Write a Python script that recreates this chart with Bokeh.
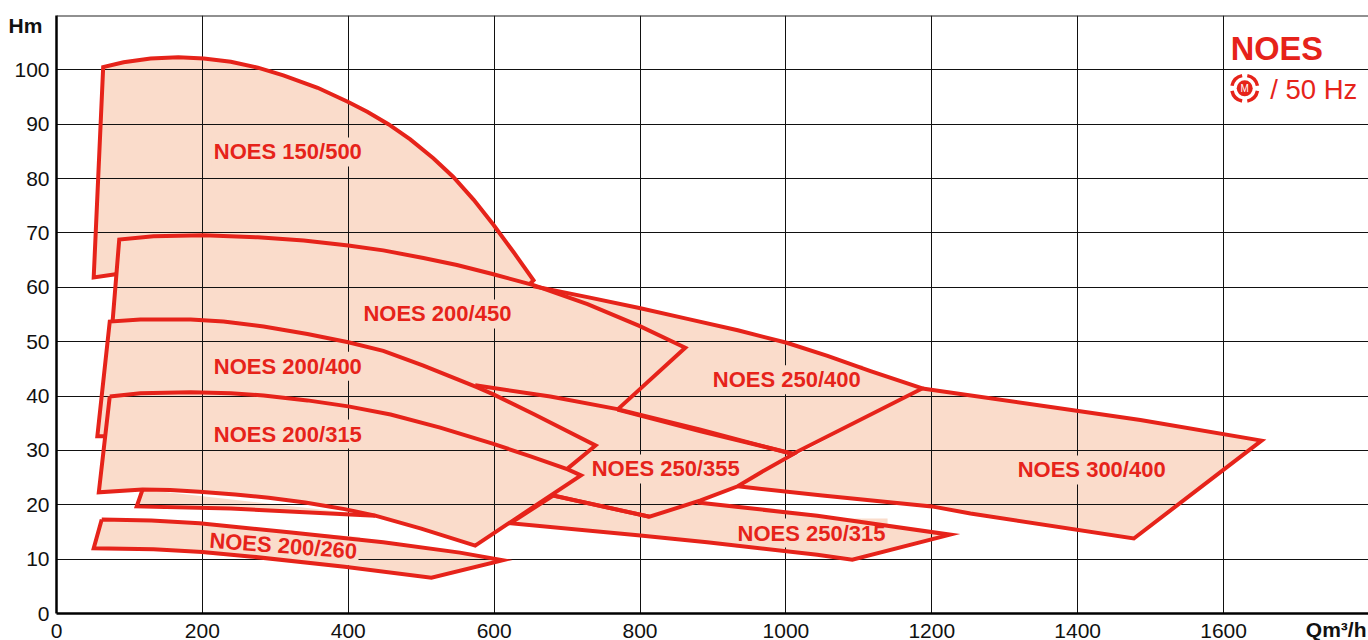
from bokeh.embed import file_html
from bokeh.resources import INLINE
from bokeh.plotting import figure
from bokeh.models import FixedTicker, Label, Span, ColumnDataSource, Title
from bokeh.core.properties import value

x_ticks = [0, 200, 400, 600, 800, 1000, 1200, 1400, 1600]
y_ticks = [0, 10, 20, 30, 40, 50, 60, 70, 80, 90, 100]

noes_150_500_q = [81, 51, 64, 92, 129, 167, 202, 239, 276, 311, 358, 400, 426, 455, 485, 517, 544, 572, 599, 627, 654, 648]
noes_150_500_h = [62.4, 61.8, 100.5, 101.4, 102.1, 102.3, 102.1, 101.5, 100.4, 99.0, 96.7, 94.1, 92.3, 90.0, 87.2, 83.7, 80.3, 76.1, 71.5, 66.4, 61.3, 60.5]
noes_200_450_q = [77, 86, 133, 202, 276, 339, 400, 448, 503, 549, 599, 654, 728, 799, 862, 769]
noes_200_450_h = [53.9, 68.8, 69.4, 69.6, 69.2, 68.6, 67.7, 66.8, 65.4, 64.1, 62.4, 60.4, 56.9, 52.9, 48.9, 37.5]
noes_250_400_q = [654, 728, 799, 865, 934, 1001, 1057, 1116, 1187, 1010, 883, 769]
noes_250_400_h = [60.2, 58.2, 56.2, 54.2, 52.1, 49.8, 47.4, 44.6, 41.4, 29.4, 33.5, 37.5]
noes_250_355_q = [574, 677, 769, 883, 1010, 965, 934, 883, 813, 681]
noes_250_355_h = [42.0, 39.9, 37.6, 33.8, 29.3, 25.9, 23.4, 20.8, 17.8, 21.7]
noes_250_315_q = [879, 1043, 1225, 1091, 1043, 892, 797, 622, 681, 813]
noes_250_315_h = [20.4, 18.0, 14.5, 9.9, 10.8, 13.1, 14.4, 16.6, 21.7, 17.8]
noes_300_400_q = [1187, 1363, 1486, 1652, 1477, 1253, 1200, 1050, 934]
noes_300_400_h = [41.4, 38.0, 35.6, 31.8, 13.8, 18.4, 19.7, 21.7, 23.4]
noes_200_400_q = [67, 56, 73, 115, 184, 229, 284, 344, 400, 448, 503, 549, 577, 599, 654, 739, 701]
noes_200_400_h = [32.6, 32.6, 53.7, 54.1, 54.1, 53.7, 52.8, 51.4, 49.9, 48.3, 45.6, 43.1, 41.6, 40.3, 36.7, 30.9, 26.7]
noes_200_315_q = [73, 115, 184, 239, 284, 344, 400, 458, 526, 599, 650, 701, 719, 574, 500, 437, 395, 341, 291, 245, 196, 156, 118, 58, 73]
noes_200_315_h = [39.9, 40.5, 40.7, 40.5, 40.1, 39.2, 38.1, 36.6, 34.2, 31.2, 28.9, 26.5, 25.4, 12.5, 15.6, 18.0, 19.2, 20.4, 21.3, 21.9, 22.4, 22.7, 22.8, 22.3, 39.9]
noes_200_280_q = [118, 110, 239, 437]
noes_200_280_h = [22.8, 19.7, 19.3, 18.0]
noes_200_260_q = [62, 130, 196, 322, 448, 553, 612, 514, 395, 265, 200, 133, 51, 62]
noes_200_260_h = [17.3, 17.1, 16.6, 14.9, 13.1, 11.2, 9.8, 6.6, 8.6, 10.5, 11.3, 11.8, 12.0, 17.3]

all_q = [noes_150_500_q, noes_200_450_q, noes_250_400_q, noes_250_355_q, noes_250_315_q,
         noes_300_400_q, noes_200_400_q, noes_200_315_q, noes_200_280_q, noes_200_260_q]
all_h = [noes_150_500_h, noes_200_450_h, noes_250_400_h, noes_250_355_h, noes_250_315_h,
         noes_300_400_h, noes_200_400_h, noes_200_315_h, noes_200_280_h, noes_200_260_h]

label_names = ["NOES 150/500", "NOES 200/450", "NOES 200/400", "NOES 200/315", "NOES 250/400",
               "NOES 250/355", "NOES 300/400", "NOES 250/315", "NOES 200/260"]
label_q = [213, 418, 213, 213, 897, 731, 1315, 931, 207]
label_h = [84.9, 55.1, 45.5, 33.0, 43.0, 26.6, 26.4, 14.8, 13.5]
label_angle = [0, 0, 0, 0, 0, 0, 0, 0, -0.075]

RED = "#E6231A"
PEACH = "#FADCCB"
SANS = "Liberation Sans"

p = figure(width=1368, height=640, output_backend="svg", toolbar_location=None,
           x_range=(0, 1798.7), y_range=(0, 110.0),
           min_border_left=56, min_border_right=0, min_border_top=15, min_border_bottom=27)
p.outline_line_color = None
p.background_fill_color = "white"

for ax, ticks, standoff in ((p.xaxis, x_ticks, 4), (p.yaxis, y_ticks, 1)):
    ax.ticker = FixedTicker(ticks=ticks)
    ax.major_tick_line_color = None
    ax.minor_tick_line_color = None
    ax.axis_line_color = "black"
    ax.axis_line_width = 2.5
    ax.major_label_text_font = SANS
    ax.major_label_text_font_size = "21px"
    ax.major_label_text_color = "#111111"
    ax.major_label_standoff = standoff

p.yaxis.axis_label_text_font = SANS
p.yaxis.axis_label_text_font_style = "bold"
p.yaxis.axis_label_text_font_size = "21px"
p.yaxis.axis_label_text_color = "#111111"
p.yaxis.axis_label_text_line_height = 0.9
p.yaxis.axis_label_align = "end"
p.yaxis.axis_label = "\nHm"
p.yaxis.axis_label_orientation = "horizontal"
p.yaxis.axis_label_standoff = -31

q_title = Title(text="Qm³/h", align="right", vertical_align="top", offset=2, standoff=-45,
                text_font=SANS, text_font_style="bold", text_font_size="21px", text_color="#111111")
p.add_layout(q_title, "below")

p.xgrid.ticker = FixedTicker(ticks=x_ticks)
p.ygrid.ticker = FixedTicker(ticks=y_ticks)
for g in (p.xgrid, p.ygrid):
    g.grid_line_color = "#111111"
    g.grid_line_width = 1
    g.grid_line_alpha = 1

p.add_layout(Span(location=110.0, dimension="width", line_color="#222222", line_width=2))

fills = p.patches(all_q, all_h, fill_color=PEACH, line_color=None)
fills.level = "image"

labels = ColumnDataSource(dict(q=label_q, h=label_h, name=label_names, angle=label_angle))
p.text("q", "h", text="name", angle="angle", source=labels, text_color=RED,
       text_font=value(SANS), text_font_style="bold", text_font_size="22px",
       text_align="left", text_baseline="middle",
       background_fill_color=PEACH, padding=2)

p.multi_line(all_q, all_h, line_color=RED, line_width=4, line_join="miter", line_cap="butt")

p.add_layout(Label(x=1610, y=103.8, text="NOES", text_font=SANS, text_font_style="bold",
                   text_font_size="32.5px", text_color=RED, text_baseline="middle"))
p.add_layout(Label(x=1664, y=96.3, text="/ 50 Hz", text_font=SANS,
                   text_font_size="27.5px", text_color=RED, text_baseline="middle"))

# motor badge
badge_q, badge_h = [1629], [96.6]
p.scatter(badge_q, badge_h, size=16, fill_color=RED, line_color=None)
for a0, a1 in ((0.2, 1.37), (1.77, 2.94), (3.34, 4.51), (4.91, 6.08)):
    p.arc(badge_q, badge_h, radius=13, radius_units="screen", start_angle=a0, end_angle=a1,
          line_color=RED, line_width=3.5)
p.text(badge_q, badge_h, text=["M"], text_color="white", text_font=value(SANS),
       text_font_size="10px", text_align="center", text_baseline="middle")

open("out.html", "w").write(file_html(p, INLINE))
